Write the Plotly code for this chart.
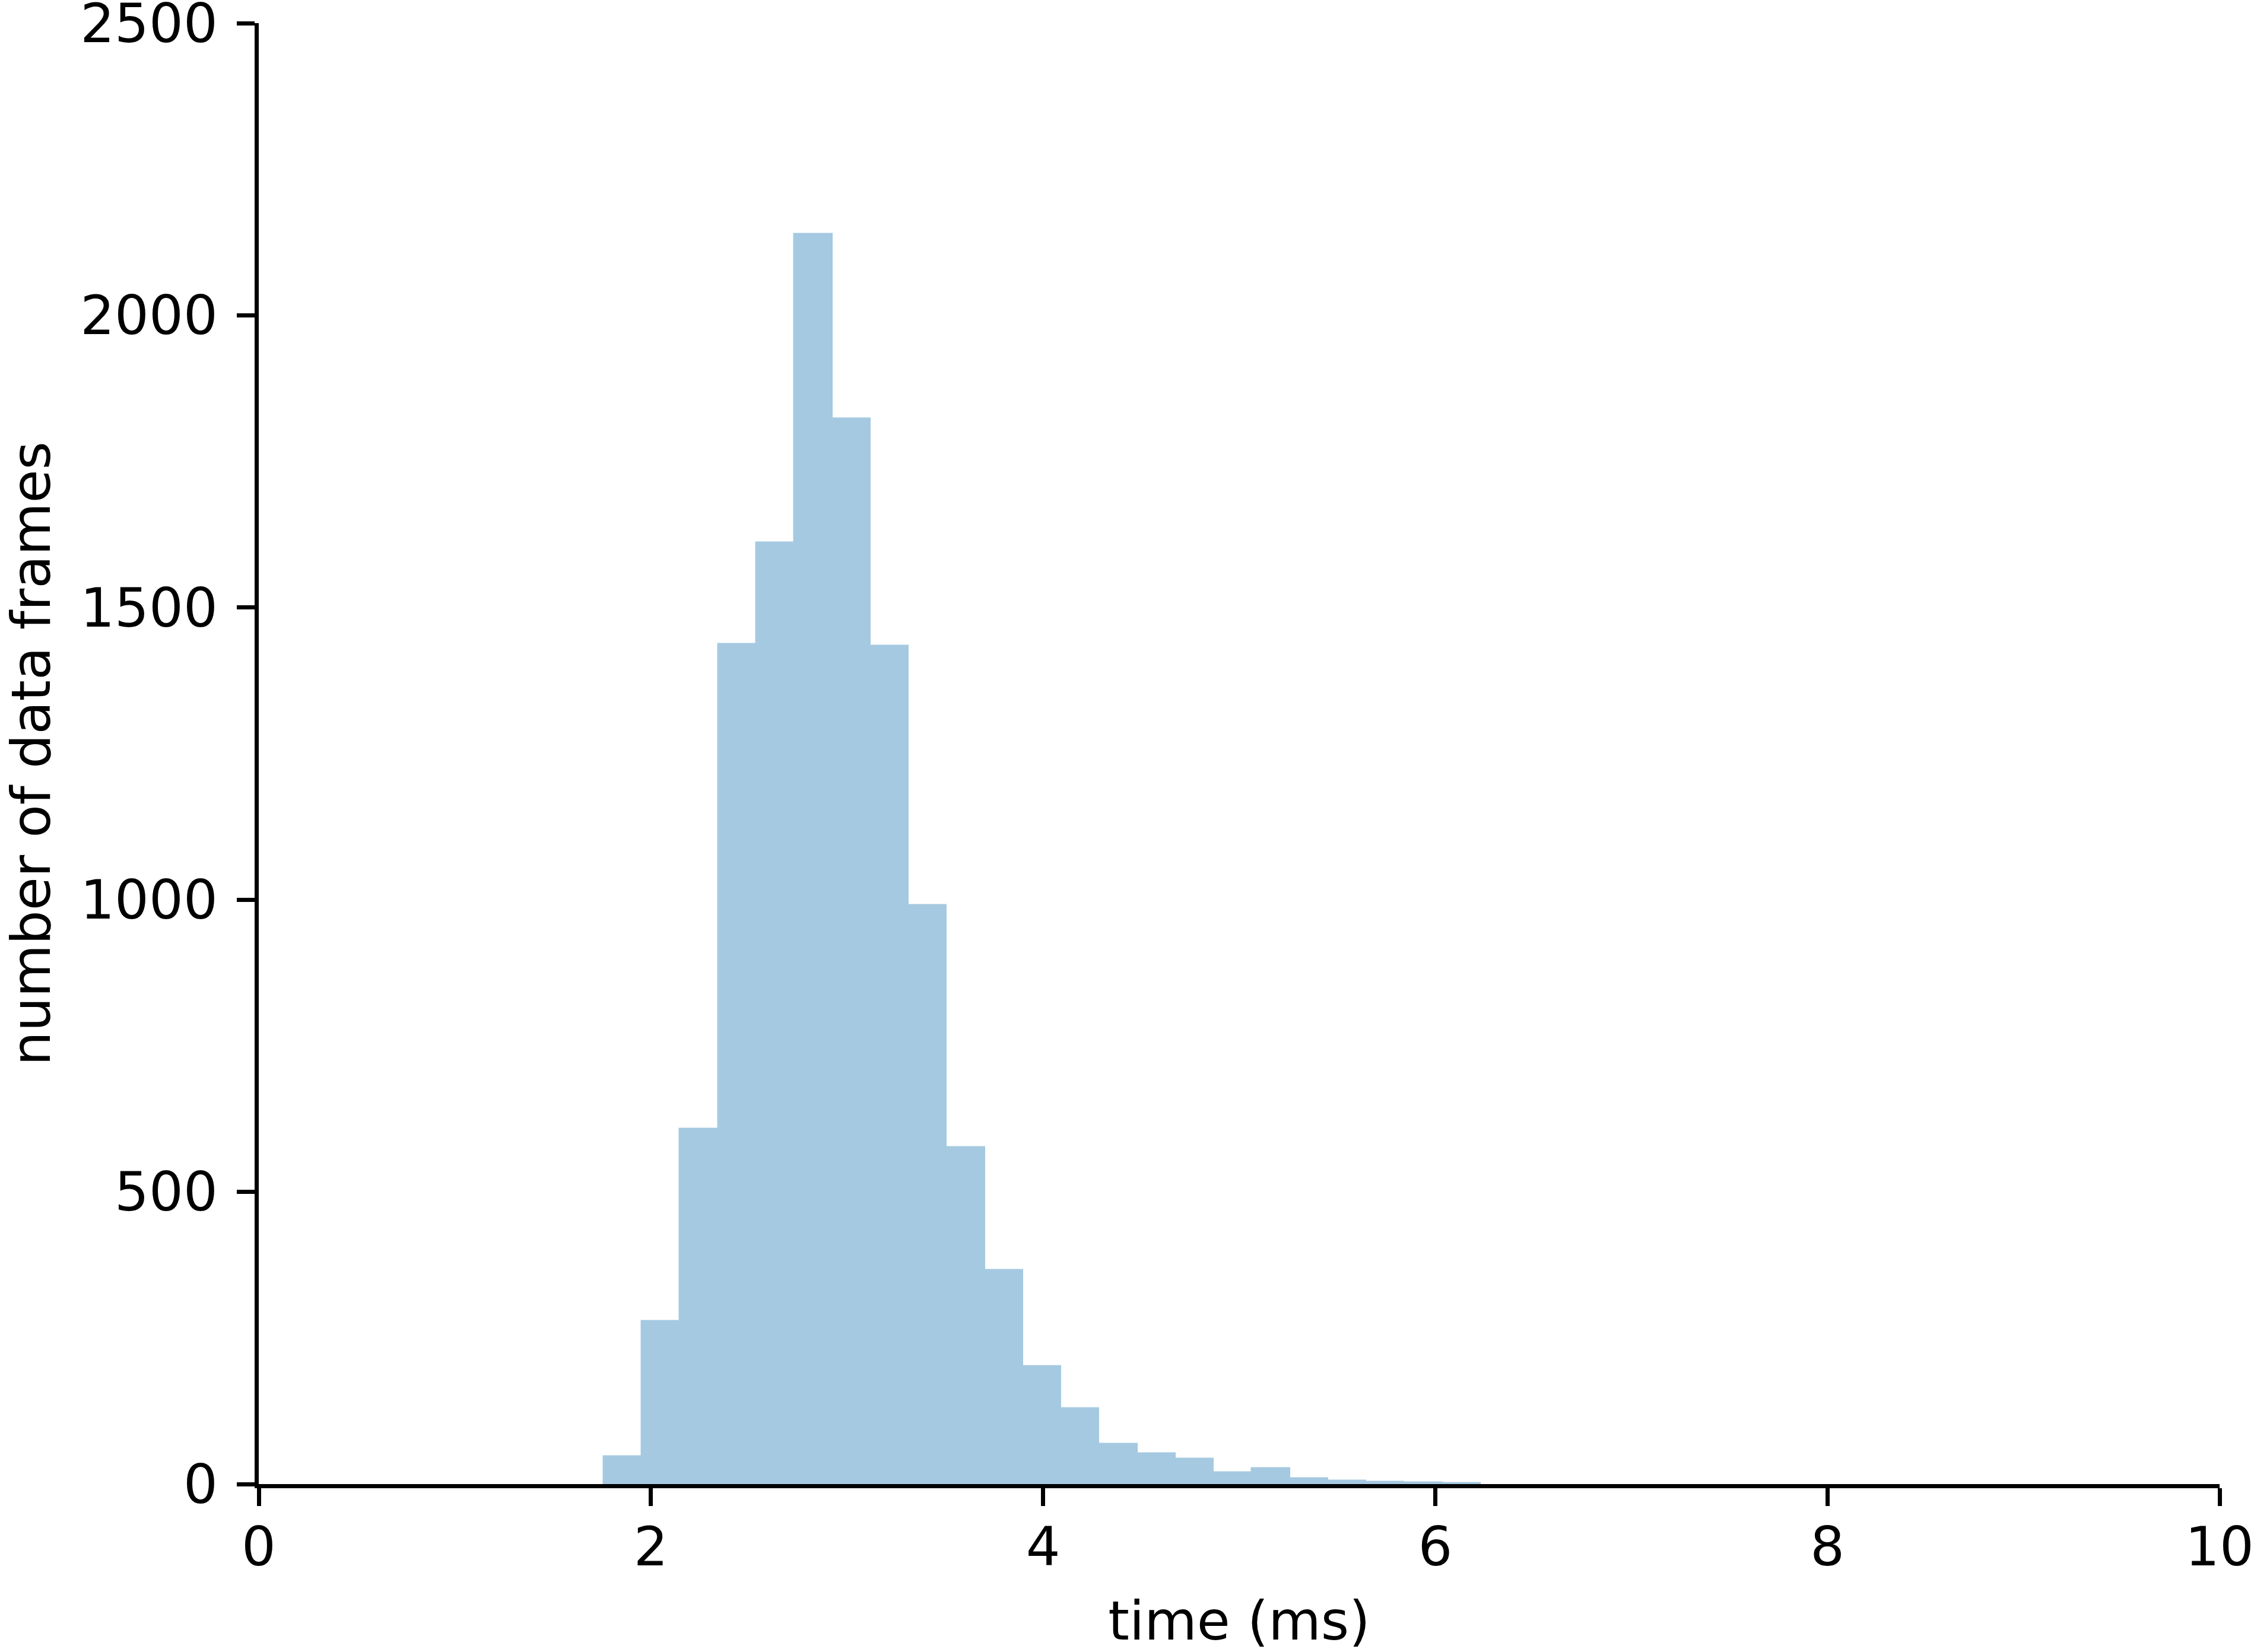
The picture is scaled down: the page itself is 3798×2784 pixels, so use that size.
import plotly.graph_objects as go

# Histogram of data-frame processing times
bin_centers = [1.855, 2.050, 2.244, 2.439, 2.633, 2.828, 3.022, 3.217, 3.411,
               3.606, 3.800, 3.995, 4.189, 4.384, 4.578, 4.773, 4.967, 5.162,
               5.356, 5.551, 5.745, 5.940, 6.134]
counts = [48, 279, 608, 1438, 1612, 2140, 1824, 1435, 991,
          577, 367, 202, 130, 69, 53, 44, 20, 27,
          10, 6, 4, 3, 2]
bin_width = 0.1945

x_ticks = [0, 2, 4, 6, 8, 10]
y_ticks = [0, 500, 1000, 1500, 2000, 2500]

FONT = "DejaVu Sans"
FS = 91
BAR_COLOR = "#a5c9e1"  # matplotlib C0 at alpha 0.4 on white

fig = go.Figure()
fig.add_trace(go.Bar(
    x=bin_centers,
    y=counts,
    width=[bin_width] * len(counts),
    marker=dict(color=BAR_COLOR, line=dict(width=1.5, color=BAR_COLOR)),
    showlegend=False,
))

fig.update_layout(
    width=3798,
    height=2784,
    margin=dict(l=436, r=58, t=39, b=283, pad=0),
    paper_bgcolor="white",
    plot_bgcolor="white",
    bargap=0,
    font=dict(family=FONT, size=FS, color="black"),
)

fig.update_xaxes(
    range=[0, 10],
    tickvals=x_ticks,
    ticktext=[str(v) for v in x_ticks],
    showline=True, linecolor="black", linewidth=7,
    ticks="outside", ticklen=30, tickwidth=7, tickcolor="black",
    showgrid=False, zeroline=False,
    tickfont=dict(family=FONT, size=FS, color="black"),
    ticklabelstandoff=-9,
    ticklabeloverflow="allow",
    automargin=False,
    title=dict(text="time (ms)", font=dict(family=FONT, size=FS, color="black"), standoff=49),
)
fig.update_yaxes(
    range=[0, 2500],
    tickvals=y_ticks,
    ticktext=[str(v) for v in y_ticks],
    showline=True, linecolor="black", linewidth=7,
    ticks="outside", ticklen=30, tickwidth=7, tickcolor="black",
    showgrid=False, zeroline=False,
    tickfont=dict(family=FONT, size=FS, color="black"),
    ticklabelstandoff=14,
    ticklabeloverflow="allow",
    automargin=False,
    title=dict(text="number of data frames", font=dict(family=FONT, size=FS, color="black"), standoff=56),
)

fig.write_html(
    "out.html",
    config={"displayModeBar": False},
    post_script="document.body.style.margin='0';",
)
